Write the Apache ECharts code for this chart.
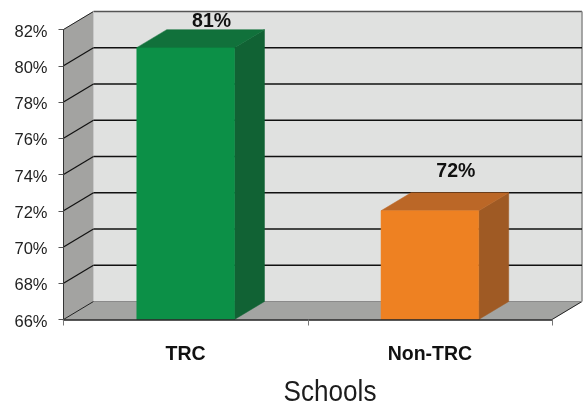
<!DOCTYPE html>
<html>
<head>
<meta charset="utf-8">
<style>html,body{margin:0;padding:0;background:#fff}#chart{width:583px;height:407px}</style>
<script src="https://cdn.jsdelivr.net/npm/echarts@6/dist/echarts.min.js"></script>
</head>
<body>
<div id="chart"></div>
<script>
// Share of schools by group
const categories = ['TRC', 'Non-TRC'];
const shares = [81, 72];
const axisTitle = 'Schools';
const axisMin = 66;
const axisMax = 82;
const axisStep = 2;
const gridLevels = [68, 70, 72, 74, 76, 78, 80];

// Box drawing: extruded depth, face colours and value label lift for each bar
const depth = [30, -18];
const faces = [
  { front: '#0c9047', top: '#11713b', side: '#116234' },
  { front: '#ee8122', top: '#bb6727', side: '#9f5a24' }
];
const labelLift = [8, 21];
const barFraction = 0.4;
const FONT = '"Liberation Sans", Arial, sans-serif';

const chart = echarts.init(document.getElementById('chart'), null, { renderer: 'canvas' });

function poly(points, fill, z2) {
  return { type: 'polygon', z2: z2 || 0, shape: { points }, style: { fill, stroke: fill, lineWidth: 0.5 } };
}
function seg(a, b, stroke, lineWidth, z2) {
  return { type: 'line', z2: z2 || 1, shape: { x1: a[0], y1: a[1], x2: b[0], y2: b[1] }, style: { stroke, lineWidth } };
}
const back = p => [p[0] + depth[0], p[1] + depth[1]];

// Back wall, side wall, floor and the gridlines that wrap around them
function renderRoom(params, api) {
  const c = params.coordSys;
  const left = c.x, right = c.x + c.width;
  const topY = api.coord([0, axisMax])[1], floorY = api.coord([0, axisMin])[1];
  const fl = [left, floorY], tl = [left, topY], fr = [right, floorY], tr = [right, topY];
  const children = [
    poly([back(tl), back(tr), back(fr), back(fl)], '#e0e1e0'),
    poly([tl, back(tl), back(fl), fl], '#a3a3a1'),
    poly([fl, back(fl), back(fr), fr], '#a3a4a2'),
    seg(back(tl), back(tr), '#555555', 1.5),
    seg(back(tr), back(fr), '#8c8c8c', 1.5),
    seg(tl, back(tl), '#222222', 1),
    seg(fr, back(fr), '#222222', 1),
    seg(back(fl), back(fr), '#8a8a8a', 1),
    seg(back(tl), back(fl), '#c8c8c8', 1),
    seg(fl, back(fl), '#222222', 1)
  ];
  gridLevels.forEach(v => {
    const y = api.coord([0, v])[1];
    children.push(seg([left, y], back([left, y]), '#111111', 1.2));
    children.push(seg(back([left, y]), back([right, y]), '#111111', 1.3));
  });
  return { type: 'group', children };
}

// One extruded bar with its value label
function renderBar(params, api) {
  const i = api.value(0), v = api.value(1);
  const top = api.coord([i, v]), base = api.coord([i, axisMin]);
  const w = api.size([1, 0])[0] * barFraction;
  const x0 = top[0] - w / 2, x1 = top[0] + w / 2;
  const tl = [x0, top[1]], tr = [x1, top[1]], bl = [x0, base[1]], br = [x1, base[1]];
  const f = faces[params.dataIndex];
  return {
    type: 'group',
    children: [
      poly([tr, back(tr), back(br), br], f.side),
      poly([tl, back(tl), back(tr), tr], f.top),
      poly([tl, tr, br, bl], f.front),
      {
        type: 'text',
        z2: 5,
        style: {
          text: v + '%',
          x: (x0 + x1) / 2 + depth[0] - 4,
          y: top[1] + depth[1] - labelLift[params.dataIndex],
          align: 'center',
          verticalAlign: 'middle',
          fill: '#111111',
          font: 'bold 19.5px ' + FONT
        }
      }
    ]
  };
}

chart.setOption({
  animation: false,
  backgroundColor: '#ffffff',
  grid: { left: 63.5, top: 29.5, width: 488.5, height: 290, containLabel: false, outerBoundsMode: 'none' },
  xAxis: {
    type: 'category',
    data: categories,
    z: 6,
    axisLine: { lineStyle: { color: '#222222', width: 1.5 } },
    axisTick: { show: true, alignWithLabel: false, length: 6, lineStyle: { color: '#777777' } },
    axisLabel: { color: '#111111', fontFamily: FONT, fontWeight: 'bold', fontSize: 19.5, margin: 25 }
  },
  yAxis: {
    type: 'value',
    min: axisMin,
    max: axisMax,
    interval: axisStep,
    z: 6,
    splitLine: { show: false },
    axisLine: { show: true, lineStyle: { color: '#333333', width: 1 } },
    axisTick: { show: true, length: 5, lineStyle: { color: '#555555' } },
    axisLabel: { color: '#222222', fontFamily: FONT, fontSize: 16.5, margin: 16, verticalAlign: 'top', lineHeight: 5, formatter: '{value}%' }
  },
  // Horizontal axis title, drawn slightly condensed
  graphic: [{
    type: 'text',
    x: 330,
    y: 393,
    scaleX: 0.87,
    style: {
      text: axisTitle,
      align: 'center',
      verticalAlign: 'middle',
      fill: '#1c1c1c',
      font: '30px "Liberation Sans", Arial, sans-serif'
    }
  }],
  series: [
    { type: 'custom', z: 1, silent: true, clip: false, renderItem: renderRoom, data: [[0, axisMin]], encode: { x: 0, y: 1 } },
    { type: 'custom', z: 3, silent: true, clip: false, renderItem: renderBar, data: shares.map((v, i) => [i, v]), encode: { x: 0, y: 1 } }
  ]
});
</script>
</body>
</html>
